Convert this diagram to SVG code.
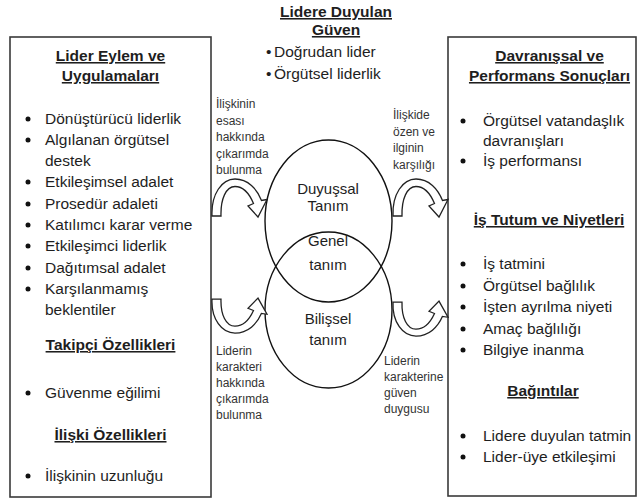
<svg xmlns="http://www.w3.org/2000/svg" width="638" height="499" viewBox="0 0 638 499">
  <style>
    text { font-family: "Liberation Sans", Arial, sans-serif; fill: #1e1e1e; }
    .body { font-size: 15.5px; }
    .head { font-size: 15.5px; font-weight: bold; text-decoration: underline; text-anchor: middle; }
    .mid { font-size: 15px; text-anchor: middle; }
    .lbl { font-size: 12px; fill: #333; }
    .box { fill: #fff; stroke: #3a3a3a; stroke-width: 1.6; }
    .oval { fill: none; stroke: #111; stroke-width: 1.4; }
    .arrow { fill: #fff; stroke: #222; stroke-width: 1.3; stroke-linejoin: miter; }
    .dot { fill: #111; }
  </style>
  <defs>
    <!-- curved block arrow arching over, head pointing down-right -->
    <path id="arc-arrow" d="M 212 216 C 211 194 222 179 235 179 C 248 179 257 189 261.5 200.5 L 267 199.5 L 258 217 L 248 206 L 253.5 203.5 C 249.5 194 243 186.5 235 186.5 C 226 186.5 220.5 199 221 216 Z"/>
  </defs>

  <rect width="638" height="499" fill="#fff"/>

  <!-- Left box: leader actions, follower and relationship features -->
  <g id="leader-actions">
    <rect class="box" x="10" y="37" width="201" height="460"/>
    <text class="head" x="110.5" y="61">Lider Eylem ve</text>
    <text class="head" x="110.5" y="81">Uygulamaları</text>
    <g class="body">
      <circle class="dot" cx="28" cy="119" r="2.5"/><text x="45" y="124">Dönüştürücü liderlik</text>
      <circle class="dot" cx="28" cy="140" r="2.5"/><text x="45" y="145">Algılanan örgütsel</text>
      <text x="45" y="166">destek</text>
      <circle class="dot" cx="28" cy="182" r="2.5"/><text x="45" y="187">Etkileşimsel adalet</text>
      <circle class="dot" cx="28" cy="204" r="2.5"/><text x="45" y="209">Prosedür adaleti</text>
      <circle class="dot" cx="28" cy="225" r="2.5"/><text x="45" y="230">Katılımcı karar verme</text>
      <circle class="dot" cx="28" cy="246" r="2.5"/><text x="45" y="251">Etkileşimci liderlik</text>
      <circle class="dot" cx="28" cy="268" r="2.5"/><text x="45" y="273">Dağıtımsal adalet</text>
      <circle class="dot" cx="28" cy="289" r="2.5"/><text x="45" y="294">Karşılanmamış</text>
      <text x="45" y="315">beklentiler</text>
    </g>
    <text class="head" x="110.5" y="350">Takipçi Özellikleri</text>
    <circle class="dot" cx="28" cy="393" r="2.5"/><text class="body" x="45" y="398">Güvenme eğilimi</text>
    <text class="head" x="110.5" y="440">İlişki Özellikleri</text>
    <circle class="dot" cx="28" cy="476" r="2.5"/><text class="body" x="45" y="481">İlişkinin uzunluğu</text>
  </g>

  <!-- Right box: behavioural and performance outcomes -->
  <g id="outcomes">
    <rect class="box" x="448" y="37" width="188" height="459"/>
    <text class="head" x="549.5" y="61">Davranışsal ve</text>
    <text class="head" x="549.5" y="81">Performans Sonuçları</text>
    <g class="body">
      <circle class="dot" cx="463" cy="121" r="2.5"/><text x="483" y="126">Örgütsel vatandaşlık</text>
      <text x="483" y="146">davranışları</text>
      <circle class="dot" cx="463" cy="161" r="2.5"/><text x="483" y="166">İş performansı</text>
    </g>
    <text class="head" x="549" y="225">İş Tutum ve Niyetleri</text>
    <g class="body">
      <circle class="dot" cx="463" cy="264" r="2.5"/><text x="483" y="269">İş tatmini</text>
      <circle class="dot" cx="463" cy="286" r="2.5"/><text x="483" y="291">Örgütsel bağlılık</text>
      <circle class="dot" cx="463" cy="307" r="2.5"/><text x="483" y="312">İşten ayrılma niyeti</text>
      <circle class="dot" cx="463" cy="329" r="2.5"/><text x="483" y="334">Amaç bağlılığı</text>
      <circle class="dot" cx="463" cy="350" r="2.5"/><text x="483" y="355">Bilgiye inanma</text>
    </g>
    <text class="head" x="543" y="396">Bağıntılar</text>
    <g class="body">
      <circle class="dot" cx="463" cy="436" r="2.5"/><text x="483" y="441">Lidere duyulan tatmin</text>
      <circle class="dot" cx="463" cy="457" r="2.5"/><text x="483" y="462">Lider-üye etkileşimi</text>
    </g>
  </g>

  <!-- Trust in leader: title and referents -->
  <g id="trust">
    <text class="head" x="336" y="17">Lidere Duyulan</text>
    <text class="head" x="336" y="35">Güven</text>
    <text class="body" x="266" y="57">•</text><text class="body" x="274" y="57">Doğrudan lider</text>
    <text class="body" x="266" y="79">•</text><text class="body" x="274" y="79">Örgütsel liderlik</text>
  </g>

  <!-- Two overlapping definitions of trust -->
  <g id="affective">
    <ellipse class="oval" cx="328.5" cy="221" rx="63.5" ry="81"/>
    <text class="mid" x="328" y="194">Duyuşsal</text>
    <text class="mid" x="328" y="211">Tanım</text>
  </g>
  <g id="cognitive">
    <ellipse class="oval" cx="328.5" cy="310" rx="63.5" ry="78"/>
    <text class="mid" x="328" y="324">Bilişsel</text>
    <text class="mid" x="328" y="345">tanım</text>
  </g>
  <g id="general">
    <text class="mid" x="328" y="246">Genel</text>
    <text class="mid" x="328" y="270">tanım</text>
  </g>

  <!-- Curved arrows between boxes and definitions -->
  <g id="connectors">
    <use href="#arc-arrow" class="arrow"/>
    <use href="#arc-arrow" class="arrow" transform="translate(181 0)"/>
    <use href="#arc-arrow" class="arrow" transform="translate(0 497.8) scale(1 -0.92)"/>
    <use href="#arc-arrow" class="arrow" transform="translate(181 500.8) scale(1 -0.92)"/>
  </g>

  <!-- Arrow labels -->
  <g id="arrow-labels">
    <text class="lbl" x="216" y="108">İlişkinin</text>
    <text class="lbl" x="216" y="124.5">esası</text>
    <text class="lbl" x="216" y="141">hakkında</text>
    <text class="lbl" x="216" y="157.5">çıkarımda</text>
    <text class="lbl" x="216" y="174">bulunma</text>

    <text class="lbl" x="393" y="119">İlişkide</text>
    <text class="lbl" x="393" y="135.5">özen ve</text>
    <text class="lbl" x="393" y="152">ilginin</text>
    <text class="lbl" x="393" y="168.5">karşılığı</text>

    <text class="lbl" x="216" y="355">Liderin</text>
    <text class="lbl" x="216" y="371">karakteri</text>
    <text class="lbl" x="216" y="387">hakkında</text>
    <text class="lbl" x="216" y="403">çıkarımda</text>
    <text class="lbl" x="216" y="419">bulunma</text>

    <text class="lbl" x="384" y="365">Liderin</text>
    <text class="lbl" x="384" y="381">karakterine</text>
    <text class="lbl" x="384" y="397">güven</text>
    <text class="lbl" x="384" y="413">duygusu</text>
  </g>
</svg>
